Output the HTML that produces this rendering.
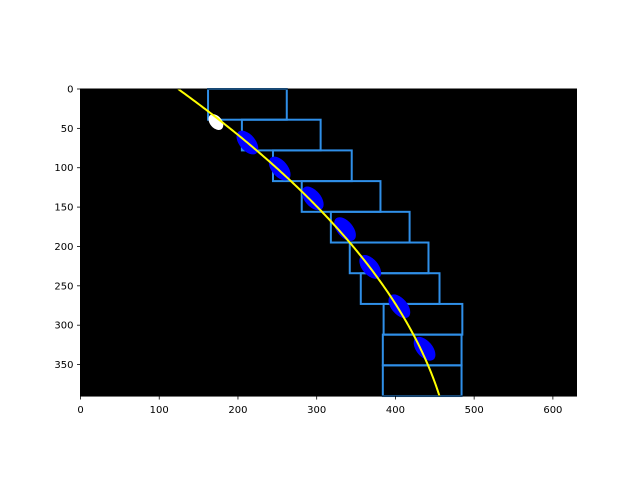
<!DOCTYPE html>
<html><head><meta charset="utf-8"><style>
body{margin:0;background:#fff}
svg{display:block;font-family:"DejaVu Sans","Liberation Sans",sans-serif}
</style></head><body>
<svg id="chart" width="640" height="480" viewBox="0 0 640 480"></svg>
<script>
// data (image coordinates)
const imgWidth = 630;
const imgHeight = 390;
const windowLeft = [162, 205, 244.5, 281, 318, 342, 356, 385, 384, 384];
const windowWidth = 100;
const blobX = [172, 212, 253, 295, 336, 368, 405, 437];
const blobY = [42, 68, 101, 139, 178, 226, 276, 330];
const blobIsWhite = [true, false, false, false, false, false, false, false];
const fitCoef = [-0.001368, 1.3847, 124];
const xTicks = [0, 100, 200, 300, 400, 500, 600];
const yTicks = [0, 50, 100, 150, 200, 250, 300, 350];

const NS = "http://www.w3.org/2000/svg";
const svg = document.getElementById('chart');
const X0 = 80.5, Y0 = 89, S = 0.7873;
const sx = v => X0 + v * S;
const sy = v => Y0 + v * S;
function mk(tag, attrs, parent) {
  const e = document.createElementNS(NS, tag);
  for (const k in attrs) e.setAttribute(k, attrs[k]);
  (parent || svg).appendChild(e);
  return e;
}
const bg = mk('rect', {x: sx(0), y: sy(0), width: imgWidth * S, height: imgHeight * S, fill: '#000'});



const nWin = windowLeft.length;
const winH = imgHeight / nWin;
windowLeft.forEach((l, i) => {
  const r = mk('rect', {x: sx(l), y: sy(i * winH), width: windowWidth * S, height: winH * S, fill: 'none', stroke: '#2f8fe8', 'stroke-width': 2});
  
  
});
blobX.forEach((bx, i) => {
  const cx = sx(bx), cy = sy(blobY[i]);
  const rx = blobIsWhite[i] ? 6 : 8, ry = blobIsWhite[i] ? 9 : 14;
  const e = mk('ellipse', {cx, cy, rx, ry, fill: blobIsWhite[i] ? '#fff' : '#0000ff', transform: `rotate(-40 ${cx} ${cy})`});
  
  
});
let d = '';
for (let y = 0; y <= imgHeight; y += 2) {
  const x = fitCoef[0] * y * y + fitCoef[1] * y + fitCoef[2];
  d += (y === 0 ? 'M' : 'L') + sx(x).toFixed(2) + ' ' + sy(y).toFixed(2);
}
const fit = mk('path', {d, fill: 'none', stroke: '#ffff00', 'stroke-width': 2});



const frame = mk('rect', {x: sx(0), y: sy(0), width: imgWidth * S, height: imgHeight * S, fill: 'none', stroke: '#000', 'stroke-width': 1});



xTicks.forEach(t => {
  const tk = mk('line', {x1: sx(t), x2: sx(t), y1: sy(imgHeight), y2: sy(imgHeight) + 3.5, stroke: '#000', 'stroke-width': 0.8});
  
  
  const tx = mk('text', {x: sx(t), y: sy(imgHeight) + 17, 'text-anchor': 'middle', 'font-size': 10, fill: '#000'});
  tx.textContent = t;
  
  
});
yTicks.forEach(t => {
  const tk = mk('line', {x1: sx(0) - 3.5, x2: sx(0), y1: sy(t), y2: sy(t), stroke: '#000', 'stroke-width': 0.8});
  
  
  const tx = mk('text', {x: sx(0) - 7, y: sy(t) + 3.5, 'text-anchor': 'end', 'font-size': 10, fill: '#000'});
  tx.textContent = t;
  
  
});
</script>
</body></html>
